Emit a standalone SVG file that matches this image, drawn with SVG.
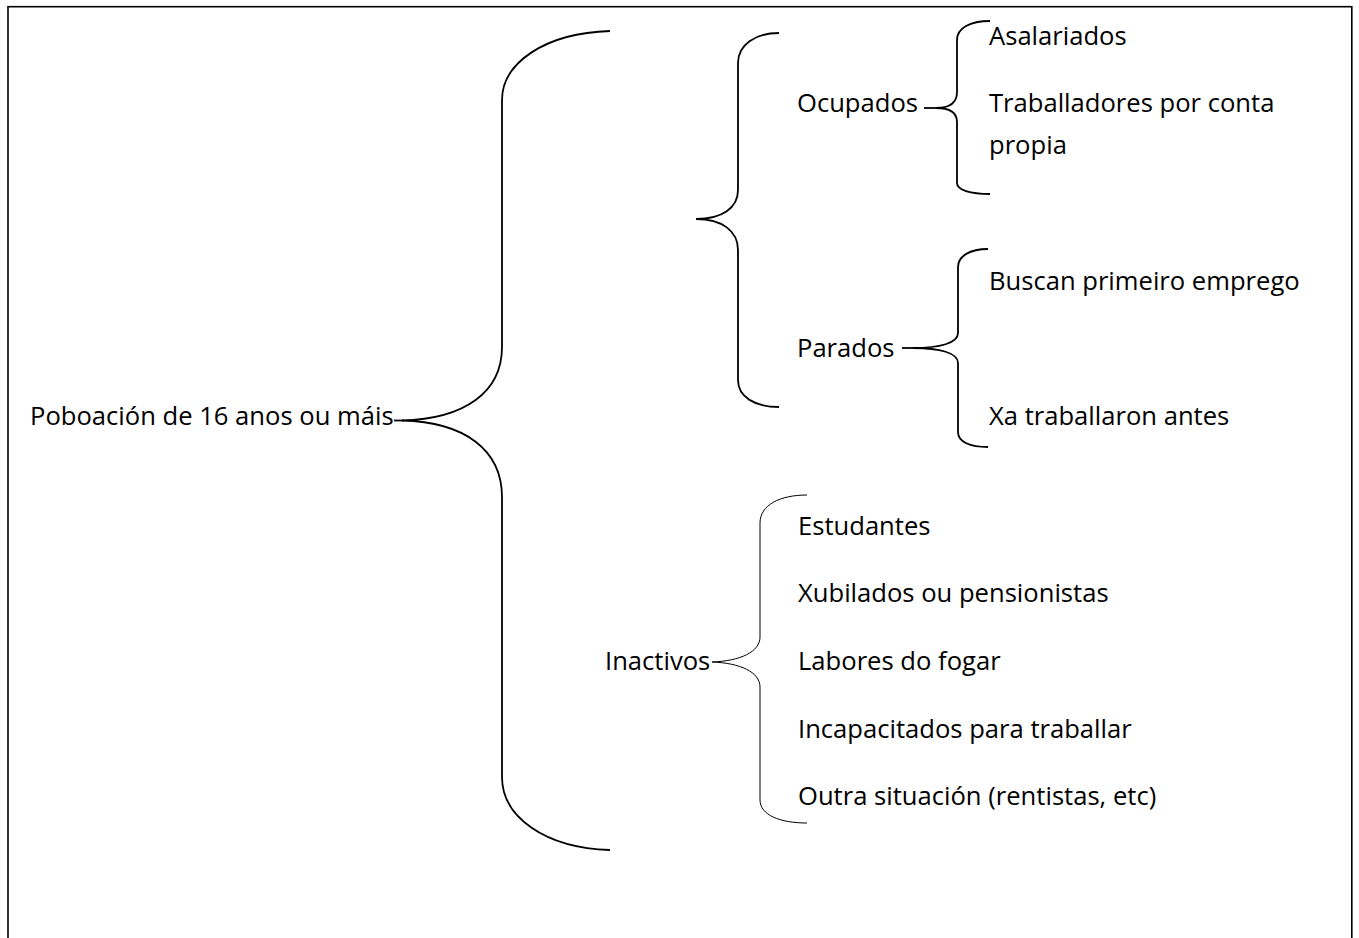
<svg xmlns="http://www.w3.org/2000/svg" width="1359" height="938" viewBox="0 0 1359 938">
<style>
text{font-family:"Open Sans","Liberation Sans",sans-serif;font-size:25.6px;fill:#000}
.br{fill:none;stroke:#000;stroke-width:1.8}
.thin{fill:none;stroke:#000;stroke-width:1}
</style>
<rect x="0" y="0" width="1359" height="938" fill="#fff"/>
<rect x="8" y="6.7" width="1343.8" height="960" fill="none" stroke="#000" stroke-width="1.6"/>
<g id="root"><text x="30" y="425">Poboación de 16 anos ou máis</text></g>
<g id="ocupados"><text x="797" y="112">Ocupados</text></g>
<g id="parados"><text x="797" y="357">Parados</text></g>
<g id="inactivos"><text x="605" y="670">Inactivos</text></g>
<g id="asalariados"><text x="989" y="45">Asalariados</text></g>
<g id="conta-propia"><text x="989" y="112">Traballadores por conta</text><text x="989" y="154">propia</text></g>
<g id="buscan"><text x="989" y="290">Buscan primeiro emprego</text></g>
<g id="xa"><text x="989" y="425">Xa traballaron antes</text></g>
<g id="estudantes"><text x="798" y="535">Estudantes</text></g>
<g id="xubilados"><text x="798" y="602">Xubilados ou pensionistas</text></g>
<g id="labores"><text x="798" y="670">Labores do fogar</text></g>
<g id="incapacitados"><text x="798" y="738">Incapacitados para traballar</text></g>
<g id="outra"><text x="798" y="805">Outra situación (rentistas, etc)</text></g>
<g id="connectors">
<path class="br" d="M394,420.5 L404,420.5"/>
<path class="br" d="M610,31 C545,33 502,63 502,100 L502,347 C502,392 465,419 402,420.5 C465,422 502,450 502,497 L502,777 C502,817 545,848 610,850"/>
<path class="br" d="M779,33 C755,33 738,45 738,63 L738,190 C738,208 722,219 696,219 C722,219 738,231 738,250 L738,380 C738,397 755,407 779,407"/>
<path class="br" d="M924,108 L936,108"/>
<path class="br" d="M990,21 C970,21 957,28 957,40 L957,92 C957,102 950,108 936,108 C950,108 957,113 957,122 L957,183 C957,190 970,194 990,194"/>
<path class="br" d="M902,348 L913,348"/>
<path class="br" d="M988,249 C970,249 958,256 958,267 L958,333 C958,343 940,348 913,348 C940,348 958,353 958,363 L958,432 C958,442 970,447 988,447"/>
<path class="thin" d="M807,495 C780,495 760,505 760,523 L760,637 C760,652 740,661 712,662 C740,663 760,672 760,687 L760,800 C760,815 780,823 807,823"/>
</g>
</svg>
